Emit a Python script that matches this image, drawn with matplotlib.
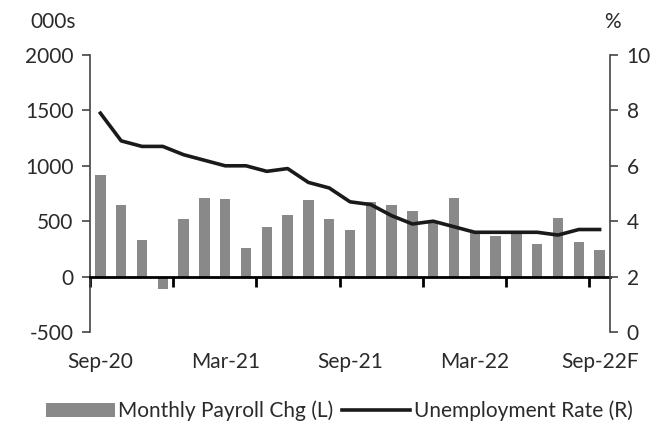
import matplotlib
matplotlib.use("Agg")
import matplotlib.pyplot as plt
import numpy as np
from matplotlib.ticker import FixedLocator, NullFormatter

months = ["Sep-20", "Oct-20", "Nov-20", "Dec-20", "Jan-21", "Feb-21", "Mar-21",
          "Apr-21", "May-21", "Jun-21", "Jul-21", "Aug-21", "Sep-21", "Oct-21",
          "Nov-21", "Dec-21", "Jan-22", "Feb-22", "Mar-22", "Apr-22", "May-22",
          "Jun-22", "Jul-22", "Aug-22", "Sep-22F"]
payrolls = [918, 648, 333, -115, 519, 711, 702, 258, 444, 558, 690, 516, 420,
            670, 648, 588, 490, 711, 390, 366, 400, 291, 525, 315, 237]
unemp = [7.9, 6.9, 6.7, 6.7, 6.4, 6.2, 6.0, 6.0, 5.8, 5.9, 5.4, 5.2, 4.7,
         4.6, 4.2, 3.9, 4.0, 3.8, 3.6, 3.6, 3.6, 3.6, 3.5, 3.7, 3.7]

plt.rcParams['font.family'] = ['Lato', 'DejaVu Sans']
plt.rcParams['axes.unicode_minus'] = False
txt = '#2a2a2a'
fs = 15

fig = plt.figure(figsize=(6.59, 4.24), dpi=100)
ax = fig.add_axes([90/659, 1-332/424, 520/659, 277/424])
x = np.arange(len(months))

ax.bar(x, payrolls, width=0.5, color='#898989', label='Monthly Payroll Chg (L)', zorder=2)
ax.set_xlim(-0.5, len(months)-0.5)
ax.set_ylim(-500, 2000)
ax.set_yticks(np.arange(-500, 2001, 500))
ax.tick_params(axis='y', direction='out', length=6, width=1.2, color='#444444',
               labelsize=fs, labelcolor=txt, pad=6)

ax.spines['top'].set_visible(False)
ax.spines['right'].set_visible(False)
ax.spines['left'].set_color('#444444')
ax.spines['left'].set_linewidth(1.2)
ax.spines['bottom'].set_position(('data', 0))
ax.spines['bottom'].set_color('black')
ax.spines['bottom'].set_linewidth(2)
ax.spines['bottom'].set_zorder(3)

ax.xaxis.set_major_locator(FixedLocator(x[::6]))
ax.set_xticklabels([months[i] for i in x[::6]])
ax.xaxis.set_minor_locator(FixedLocator(np.arange(-0.5, len(months)-1, 4)))
ax.xaxis.set_minor_formatter(NullFormatter())
ax.tick_params(axis='x', which='major', length=0, pad=54, labelsize=fs, labelcolor=txt)
ax.tick_params(axis='x', which='minor', length=7, width=2, color='black', direction='out')

ax2 = ax.twinx()
ax2.plot(x, unemp, color='#1a1a1a', lw=2.6, label='Unemployment Rate (R)',
         solid_joinstyle='round', zorder=4)
ax2.set_ylim(0, 10)
ax2.set_yticks(np.arange(0, 11, 2))
ax2.tick_params(axis='y', direction='out', length=6, width=1.2, color='#444444',
                labelsize=fs, labelcolor=txt, pad=6)
for s in ['top', 'left', 'bottom']:
    ax2.spines[s].set_visible(False)
ax2.spines['right'].set_color('#444444')
ax2.spines['right'].set_linewidth(1.2)

fig.text(30/659, 1-22/424, '000s', fontsize=fs, color=txt, va='center', ha='left')
fig.text(612/659, 1-22/424, '%', fontsize=fs, color=txt, va='center', ha='center')

h1, l1 = ax.get_legend_handles_labels()
h2, l2 = ax2.get_legend_handles_labels()
fig.legend(h1 + h2, l1 + l2, loc='center', bbox_to_anchor=(0.515, 1-411/424), ncol=2,
           frameon=False, fontsize=fs, labelcolor=txt, handlelength=3.3,
           handletextpad=0.15, columnspacing=0.4, handleheight=0.7)

fig.savefig('out.png', dpi=100)
